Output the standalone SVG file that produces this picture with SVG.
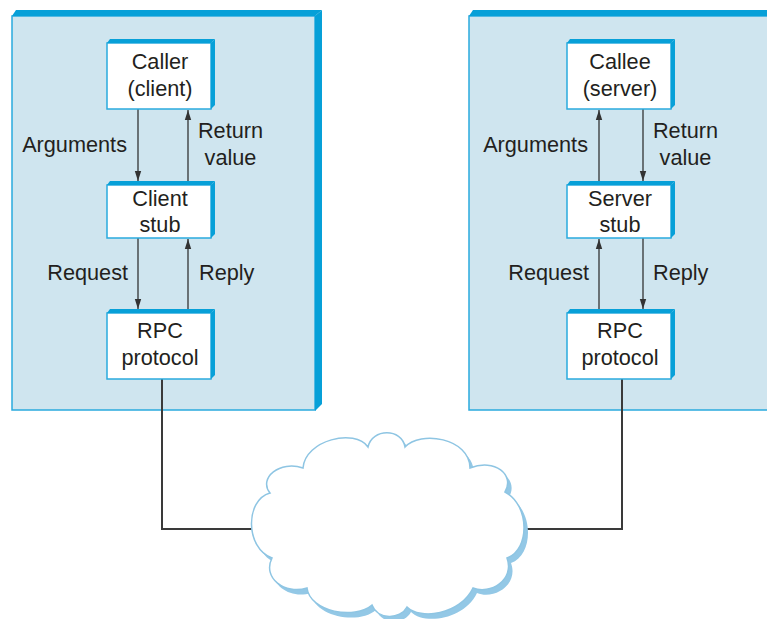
<svg xmlns="http://www.w3.org/2000/svg" width="767" height="619" viewBox="0 0 767 619">
<defs>
<style>
.panel{fill:#cfe5ef;stroke:#2aaade;stroke-width:1.5}
.face{fill:#07a0d8}
.box{fill:#ffffff;stroke:#2aaade;stroke-width:1.5}
.t{font-family:"Liberation Sans",Arial,sans-serif;font-size:21.7px;fill:#231f20}
.m{text-anchor:middle}
.e{text-anchor:end}
.arr{stroke:#333;stroke-width:1.3;fill:none;marker-end:url(#ah)}
.conn{stroke:#3a3a3a;stroke-width:2;fill:none}
</style>
<marker id="ah" viewBox="0 0 10 10" refX="10" refY="5" markerWidth="10" markerHeight="10" markerUnits="userSpaceOnUse" orient="auto">
<path d="M0,1.8 L10,5 L0,8.2 Z" fill="#333"/>
</marker>
</defs>

<g id="client-machine">
<rect class="panel" x="12" y="16" width="303" height="394"/>
<polygon class="face" points="12,16 16,10 322,10 315,16"/>
<polygon class="face" points="315,16 322,10 322,404 315,411"/>
</g>
<g id="server-machine">
<rect class="panel" x="469" y="16" width="310" height="394"/>
<polygon class="face" points="469,16 473,10 780,10 780,16"/>
</g>

<g id="connectors">
<line class="arr" x1="138" y1="109" x2="138" y2="181"/>
<line class="arr" x1="188" y1="181" x2="188" y2="110"/>
<line class="arr" x1="138" y1="238" x2="138" y2="309"/>
<line class="arr" x1="188" y1="309" x2="188" y2="239"/>
<line class="arr" x1="599" y1="181" x2="599" y2="110"/>
<line class="arr" x1="643" y1="109" x2="643" y2="181"/>
<line class="arr" x1="599" y1="309" x2="599" y2="239"/>
<line class="arr" x1="643" y1="238" x2="643" y2="309"/>
<polyline class="conn" points="162,379 162,529 260,529"/>
<polyline class="conn" points="622,379 622,529 520,529"/>
</g>

<g id="caller">
<rect class="box" x="107" y="43" width="104" height="66"/>
<polygon class="face" points="107,43 110,39 215,39 211,43"/>
<polygon class="face" points="211,43 215,39 215,105 211,109"/>
<text class="t m" x="160" y="69">Caller</text>
<text class="t m" x="160" y="96">(client)</text>
</g>
<g id="client-stub">
<rect class="box" x="107" y="185" width="104" height="53"/>
<polygon class="face" points="107,185 110,181 215,181 211,185"/>
<polygon class="face" points="211,185 215,181 215,234 211,238"/>
<text class="t m" x="160" y="206">Client</text>
<text class="t m" x="160" y="232">stub</text>
</g>
<g id="client-rpc">
<rect class="box" x="107" y="313" width="104" height="66"/>
<polygon class="face" points="107,313 110,309 215,309 211,313"/>
<polygon class="face" points="211,313 215,309 215,375 211,379"/>
<text class="t m" x="160" y="338">RPC</text>
<text class="t m" x="160" y="365">protocol</text>
</g>

<g id="callee">
<rect class="box" x="567" y="43" width="104" height="66"/>
<polygon class="face" points="567,43 570,39 675,39 671,43"/>
<polygon class="face" points="671,43 675,39 675,105 671,109"/>
<text class="t m" x="620" y="69">Callee</text>
<text class="t m" x="620" y="96">(server)</text>
</g>
<g id="server-stub">
<rect class="box" x="567" y="185" width="104" height="53"/>
<polygon class="face" points="567,185 570,181 675,181 671,185"/>
<polygon class="face" points="671,185 675,181 675,234 671,238"/>
<text class="t m" x="620" y="206">Server</text>
<text class="t m" x="620" y="232">stub</text>
</g>
<g id="server-rpc">
<rect class="box" x="567" y="313" width="104" height="66"/>
<polygon class="face" points="567,313 570,309 675,309 671,313"/>
<polygon class="face" points="671,313 675,309 675,375 671,379"/>
<text class="t m" x="620" y="338">RPC</text>
<text class="t m" x="620" y="365">protocol</text>
</g>

<g id="labels">
<text class="t e" x="127" y="152">Arguments</text>
<text class="t m" x="230.5" y="138">Return</text>
<text class="t m" x="230.5" y="165">value</text>
<text class="t e" x="128" y="280">Request</text>
<text class="t" x="199" y="280">Reply</text>
<text class="t e" x="588" y="152">Arguments</text>
<text class="t m" x="685.5" y="138">Return</text>
<text class="t m" x="685.5" y="165">value</text>
<text class="t e" x="589" y="280">Request</text>
<text class="t" x="653" y="280">Reply</text>
</g>

<g id="network">
<path transform="translate(4,5)" fill="#93c8e6" d="M303,468 C305,440 355,428 368,447 C372,428 402,428 405,447 C420,430 470,438 470,468 C495,458 515,475 505,492 C530,505 530,550 507,558 C515,580 490,595 473,588 C460,615 420,620 407,607 C400,620 378,620 372,605 C355,620 310,612 307,588 C285,595 262,578 272,558 C245,548 245,500 270,493 C258,478 280,460 303,468 Z"/>
<path fill="#ffffff" stroke="#8ec5e3" stroke-width="1.5" d="M303,468 C305,440 355,428 368,447 C372,428 402,428 405,447 C420,430 470,438 470,468 C495,458 515,475 505,492 C530,505 530,550 507,558 C515,580 490,595 473,588 C460,615 420,620 407,607 C400,620 378,620 372,605 C355,620 310,612 307,588 C285,595 262,578 272,558 C245,548 245,500 270,493 C258,478 280,460 303,468 Z"/>
</g>
</svg>
